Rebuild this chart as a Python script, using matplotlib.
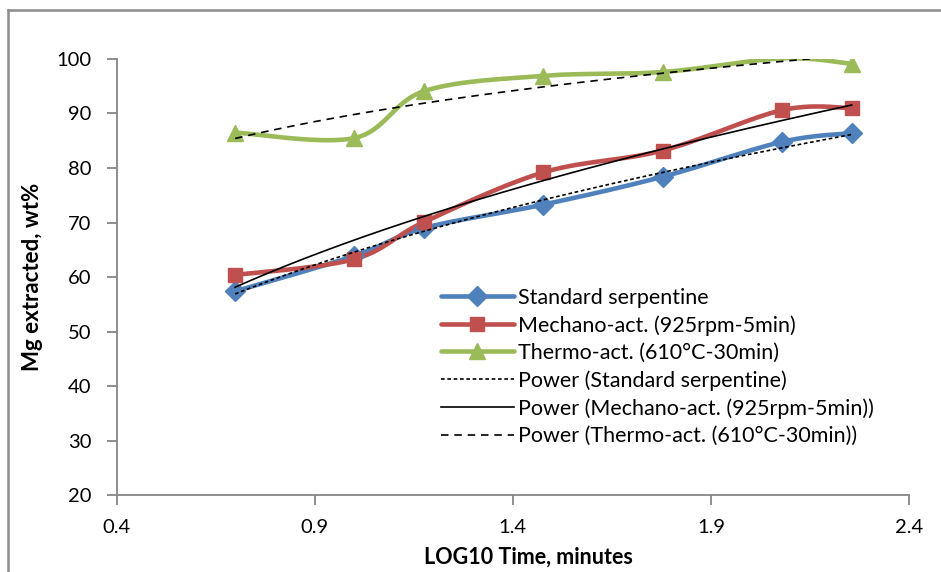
import numpy as np
import matplotlib
matplotlib.use('Agg')
import matplotlib.pyplot as plt
from matplotlib.lines import Line2D

plt.rcParams['font.family'] = ['Lato', 'DejaVu Sans']

# log10 of time in minutes (5, 10, 15, 30, 60, 120, 180 min)
log_time = np.log10([5, 10, 15, 30, 60, 120, 180])

standard = [57.4, 63.9, 69.0, 73.3, 78.4, 84.8, 86.4]
mechano = [60.4, 63.3, 70.1, 79.2, 83.2, 90.6, 91.0]
thermo = [86.5, 85.5, 94.1, 96.9, 97.6, 100.1, 99.1]

labels = ['Standard serpentine', 'Mechano-act. (925rpm-5min)', 'Thermo-act. (610°C-30min)']
colors = ['#4F81BD', '#C0504D', '#9BBB59']
markers = ['D', 's', '^']
msizes = [10, 10.5, 12]
trend_styles = [(0, (2.2, 1.6)), '-', (0, (4.5, 3.5))]

y_min, y_max = 20, 100


def smooth(x, y, n=30):
    # Excel-like smoothed line: cubic bezier through points
    x = np.asarray(x, float)
    y = np.asarray(y, float)
    px = np.concatenate([[x[0]], x, [x[-1]]])
    py = np.concatenate([[y[0]], y, [y[-1]]])
    xs, ys = [], []
    t = np.linspace(0, 1, n)
    for i in range(1, len(px) - 2):
        p0 = np.array([px[i], py[i]])
        p3 = np.array([px[i + 1], py[i + 1]])
        p1 = p0 + (np.array([px[i + 1], py[i + 1]]) - np.array([px[i - 1], py[i - 1]])) / 6
        p2 = p3 - (np.array([px[i + 2], py[i + 2]]) - np.array([px[i], py[i]])) / 6
        b = (np.outer((1 - t) ** 3, p0) + np.outer(3 * (1 - t) ** 2 * t, p1)
             + np.outer(3 * (1 - t) * t ** 2, p2) + np.outer(t ** 3, p3))
        xs.extend(b[:, 0])
        ys.extend(b[:, 1])
    return np.array(xs), np.array(ys)


fig = plt.figure(figsize=(9.41, 5.72), dpi=100)
ax = fig.add_axes([0.124, 0.134, 0.842, 0.763])

series = [standard, mechano, thermo]
handles = []
for vals, lab, c, m, ms in zip(series, labels, colors, markers, msizes):
    sx, sy = smooth(log_time, vals)
    ax.plot(sx, sy, color=c, lw=3.3, solid_capstyle='round', zorder=2)
    vis = [i for i, v in enumerate(vals) if v <= y_max]
    ax.plot(np.array(log_time)[vis], np.array(vals)[vis], ls='none', marker=m,
            ms=ms, color=c, mec=c, zorder=3)
    handles.append(Line2D([], [], color=c, lw=3.3, marker=m, ms=ms,
                          solid_capstyle='round', label=lab))

for vals, lab, st in zip(series, labels, trend_styles):
    b, ln_a = np.polyfit(np.log(log_time), np.log(vals), 1)
    tx = np.linspace(log_time[0], log_time[-1], 200)
    ax.plot(tx, np.exp(ln_a) * tx ** b, color='black', lw=1.2, ls=st, zorder=4)
    handles.append(Line2D([], [], color='black', lw=1.2, ls=st, label='Power (' + lab + ')'))

ax.set_xlim(0.4, 2.4)
ax.set_ylim(y_min, y_max)
ax.set_xticks([0.4, 0.9, 1.4, 1.9, 2.4])
ax.set_xticklabels(['0.4', '0.9', '1.4', '1.9', '2.4'])
ax.set_yticks(range(20, 101, 10))
for s in ['top', 'right']:
    ax.spines[s].set_visible(False)
for s in ['left', 'bottom']:
    ax.spines[s].set_color('#868686')
    ax.spines[s].set_linewidth(1.3)
ax.tick_params(direction='out', length=7, width=1.3, color='#868686',
               labelsize=14.5)
ax.tick_params(axis='y', pad=11)
ax.tick_params(axis='x', pad=10)
ax.set_xlabel('LOG10 Time, minutes', fontsize=15.5, fontweight='bold', labelpad=8)
ax.xaxis.label.set_x(0.52)
ax.set_ylabel('Mg extracted, wt%', fontsize=16, fontweight='bold', labelpad=10)

leg = ax.legend(handles=handles, loc='upper left', bbox_to_anchor=(0.459, 0.512),
                bbox_transform=fig.transFigure, frameon=False, fontsize=15.5,
                handlelength=3.4, handletextpad=0.2, labelspacing=0.34,
                numpoints=1, borderaxespad=0)

# outer chart border (left and top edges visible)
fig.add_artist(Line2D([8 / 941, 8 / 941], [0, 1 - 10 / 572], transform=fig.transFigure,
                      color='#8c8c8c', lw=1.8))
fig.add_artist(Line2D([8 / 941, 1], [1 - 10 / 572, 1 - 10 / 572], transform=fig.transFigure,
                      color='#8c8c8c', lw=1.8))

fig.savefig('out.png', dpi=100)
